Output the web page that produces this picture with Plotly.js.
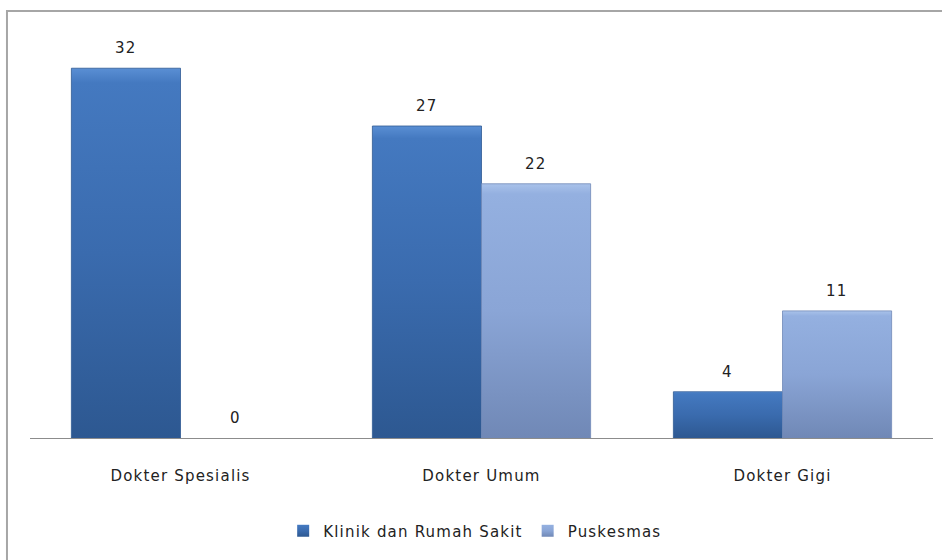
<!DOCTYPE html>
<html>
<head>
<meta charset="utf-8">
<script src="https://cdn.plot.ly/plotly-3.0.1.min.js"></script>
<style>
html,body{margin:0;padding:0;background:#fff;overflow:hidden;}
#chart{width:942px;height:560px;}
svg text{letter-spacing:1.2px;}
</style>
</head>
<body>
<div id="chart"></div>
<script>
var categories = ["Dokter Spesialis", "Dokter Umum", "Dokter Gigi"];
var klinikValues = [32, 27, 4];
var puskesmasValues = [0, 22, 11];
var seriesNames = ["Klinik dan Rumah Sakit", "Puskesmas"];

var fontFam = "DejaVu Sans, Verdana, sans-serif";
var bargap = 0.275;
// half-bar offset in pixels, derived from plot width, category count and bargap
var plotW = 942 - 30 - 9;
var halfBar = plotW / categories.length * (1 - bargap) / 4;

var traces = [
  {
    type: "bar", name: seriesNames[0], x: categories, y: klinikValues,
    marker: {color: "#3a6cb0", line: {width: 0}}
  },
  {
    type: "bar", name: seriesNames[1], x: categories, y: puskesmasValues,
    marker: {color: "#8aa5d6", line: {width: 0}}
  }
];

var annotations = [];
[klinikValues, puskesmasValues].forEach(function(vals, s){
  vals.forEach(function(v, i){
    annotations.push({
      x: categories[i], y: v, xref: "x", yref: "y", text: String(v), showarrow: false,
      xshift: s === 0 ? -halfBar : halfBar, yanchor: "bottom", yshift: 9,
      font: {family: fontFam, size: 15, color: "#222"}
    });
  });
});

var layout = {
  width: 942, height: 560,
  margin: {l: 30, r: 9, t: 22, b: 122},
  paper_bgcolor: "#ffffff", plot_bgcolor: "#ffffff",
  barmode: "group", bargap: bargap, bargroupgap: 0,
  font: {family: fontFam, size: 15, color: "#222"},
  showlegend: true,
  legend: {orientation: "h", x: 0.493, xanchor: "center", y: -0.2236, yanchor: "middle",
           font: {family: fontFam, size: 15, color: "#222"}, itemwidth: 30, traceorder: "normal"},
  xaxis: {showline: true, linecolor: "#8c8c8c", linewidth: 1, ticks: "", showgrid: false,
          tickfont: {family: fontFam, size: 15, color: "#222"}, ticklabelstandoff: 24},
  yaxis: {range: [0, 36], visible: false, showgrid: false, zeroline: false},
  annotations: annotations,
  shapes: [{type: "rect", xref: "paper", yref: "paper", x0: -0.0255, x1: 1.2, y0: -0.5, y1: 1.0264,
            line: {color: "#a6a6a6", width: 2}, fillcolor: "rgba(0,0,0,0)", layer: "above"}]
};

Plotly.newPlot("chart", traces, layout, {displayModeBar: false, staticPlot: true}).then(function(gd){
  var svg = gd.querySelector("svg.main-svg");
  var ns = "http://www.w3.org/2000/svg";
  var defs = svg.querySelector("defs") || svg.insertBefore(document.createElementNS(ns, "defs"), svg.firstChild);
  function grad(id, stops){
    var g = document.createElementNS(ns, "linearGradient");
    g.setAttribute("id", id); g.setAttribute("x1", "0"); g.setAttribute("y1", "0");
    g.setAttribute("x2", "0"); g.setAttribute("y2", "1");
    stops.forEach(function(s){
      var st = document.createElementNS(ns, "stop");
      st.setAttribute("offset", s[0]); st.setAttribute("stop-color", s[1]);
      g.appendChild(st);
    });
    defs.appendChild(g);
  }
  grad("gK", [["0", "#5a8fd4"], ["0.04", "#4479c0"], ["0.5", "#3a6bae"], ["1", "#2d5891"]]);
  grad("gP", [["0", "#a9c2ea"], ["0.04", "#94b0e0"], ["0.5", "#8aa5d6"], ["1", "#7088b6"]]);
  var ids = ["gK", "gP"];
  gd.querySelectorAll(".barlayer .trace").forEach(function(t, i){
    t.querySelectorAll("path").forEach(function(p){
      p.style.fill = "url(#" + ids[i] + ")";
      p.style.stroke = i === 0 ? "#2f5a94" : "#7189b8";
      p.style.strokeWidth = "1px";
      p.style.strokeOpacity = "0.8";
    });
  });
  gd.querySelectorAll(".legend .traces").forEach(function(t, i){
    t.querySelectorAll(".legendpoints path").forEach(function(p){ p.style.fill = "url(#" + ids[i] + ")"; });
  });
});
</script>
</body>
</html>
